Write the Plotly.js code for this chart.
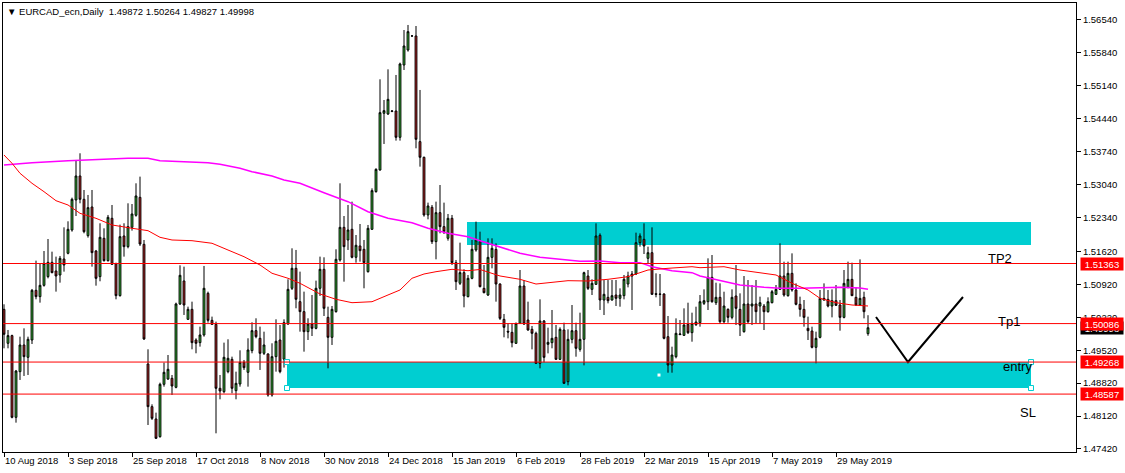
<!DOCTYPE html>
<html><head><meta charset="utf-8">
<script src="https://cdn.plot.ly/plotly-3.0.1.min.js"></script>
<style>html,body{margin:0;padding:0;background:#fff;}#chart{width:1125px;height:473px;}</style>
</head><body><div id="chart"></div>
<script>
// ---- data (EURCAD daily, one bar per weekday from 10 Aug 2018) ----
const openP = [
1.50389,1.49667,1.49830,1.48093,1.49064,1.49631,1.49369,1.49737,1.50793,1.50659,
1.50899,1.51084,1.51388,1.51204,1.51119,1.51459,1.51580,1.52076,1.52714,1.53224,
1.52728,1.51955,1.52565,1.51629,1.51084,1.51899,1.51424,1.52324,1.51360,1.50680,
1.51948,1.51721,1.52132,1.52388,1.52770,1.51771,1.49227,1.48320,1.48058,1.47682,
1.48795,1.48908,1.48922,1.48731,1.50503,1.50992,1.50177,1.50389,1.49737,1.49681,
1.49844,1.50729,1.50155,1.50070,1.48710,1.48639,1.49064,1.49326,1.48660,1.48802,
1.49263,1.49050,1.49511,1.49936,1.49773,1.49454,1.49440,1.48568,1.49383,1.49737,
1.49330,1.50078,1.50836,1.51261,1.50552,1.50340,1.49914,1.50077,1.49985,1.50836,
1.51240,1.50219,1.49794,1.50340,1.51438,1.52132,1.51863,1.52090,1.51495,1.51736,
1.51665,1.51190,1.52090,1.52891,1.53351,1.54556,1.54542,1.54598,1.54605,1.54046,
1.55583,1.55902,1.56200,1.56200,1.53954,1.53621,1.52395,1.52558,1.51828,1.52444,
1.52147,1.51899,1.52324,1.51381,1.50942,1.51169,1.50658,1.51048,1.51651,1.51827,
1.50835,1.50693,1.51494,1.51664,1.50927,1.50176,1.49921,1.49900,1.49666,1.50091,
1.50885,1.50162,1.49964,1.49879,1.49241,1.50141,1.49645,1.49680,1.49794,1.49326,
1.49949,1.48851,1.49751,1.49935,1.49538,1.49751,1.51097,1.50814,1.50920,1.51962,
1.50587,1.50644,1.50587,1.50693,1.50623,1.50679,1.50927,1.51140,1.51140,1.51806,
1.51877,1.51473,1.51593,1.50722,1.50715,1.50715,1.49808,1.49205,1.49382,1.49850,
1.49836,1.50070,1.49893,1.50063,1.50105,1.50516,1.50551,1.51069,1.50530,1.50644,
1.50126,1.50388,1.50218,1.50672,1.50388,1.49914,1.50502,1.50459,1.50502,1.50459,
1.50459,1.50339,1.50530,1.50707,1.50814,1.51097,1.50679,1.51154,1.50800,1.50495,
1.50388,1.49985,1.49928,1.49581,1.49793,1.50622,1.50601,1.50459,1.50573,1.50481,
1.50218,1.50856,1.51026,1.50644,1.50481,1.50644,1.49872];
const highP = [
1.50496,1.49950,1.49850,1.49100,1.49808,1.49985,1.49808,1.50822,1.51424,1.51353,
1.51629,1.51884,1.51615,1.51509,1.51523,1.52132,1.52260,1.52763,1.53564,1.53706,
1.52926,1.52820,1.52926,1.51651,1.52218,1.52111,1.52395,1.52607,1.51381,1.52189,
1.52218,1.52643,1.52628,1.53068,1.53210,1.51863,1.49539,1.48370,1.48193,1.48830,
1.49256,1.49418,1.48993,1.50531,1.51325,1.51296,1.50446,1.50552,1.49773,1.50021,
1.51311,1.50765,1.50234,1.50127,1.48993,1.49681,1.49752,1.49383,1.49064,1.49518,
1.49312,1.49773,1.50113,1.50198,1.50021,1.49914,1.49454,1.49667,1.50177,1.50056,
1.50177,1.51027,1.51686,1.51651,1.51190,1.50765,1.50198,1.50694,1.50999,1.51509,
1.51495,1.50446,1.50460,1.51665,1.53068,1.52373,1.52607,1.52678,1.51969,1.52203,
1.51863,1.52182,1.52961,1.53387,1.55279,1.54839,1.55491,1.54620,1.55371,1.55633,
1.56327,1.56434,1.56215,1.56412,1.55052,1.53635,1.52657,1.52607,1.52678,1.53032,
1.52657,1.52416,1.52395,1.51438,1.51806,1.51240,1.51119,1.51863,1.52253,1.52040,
1.51331,1.51898,1.51898,1.51792,1.50942,1.50290,1.50091,1.50091,1.50105,1.51225,
1.51012,1.50552,1.50035,1.49914,1.50601,1.50162,1.49999,1.50375,1.50056,1.50006,
1.50105,1.49964,1.50481,1.50105,1.50318,1.51189,1.51225,1.51027,1.52217,1.52004,
1.51012,1.51012,1.51012,1.51012,1.50835,1.51119,1.51189,1.51204,1.52019,1.52004,
1.52217,1.51721,1.52132,1.51154,1.51140,1.50729,1.50247,1.49595,1.50197,1.50162,
1.50410,1.50530,1.50318,1.50445,1.50693,1.50814,1.51473,1.51544,1.50955,1.50941,
1.50764,1.50410,1.50814,1.51331,1.50729,1.51097,1.51012,1.50906,1.51012,1.50658,
1.50502,1.50644,1.50800,1.50906,1.51792,1.51402,1.51402,1.51579,1.50941,1.50658,
1.50587,1.50233,1.50020,1.49914,1.50800,1.50941,1.50800,1.50814,1.50906,1.50587,
1.51225,1.51402,1.51381,1.50856,1.51451,1.50764,1.50264];
const lowP = [
1.49560,1.49560,1.48072,1.47980,1.48887,1.48972,1.48993,1.49652,1.50602,1.50531,
1.50871,1.51048,1.51155,1.50765,1.50956,1.51190,1.51558,1.52040,1.52373,1.52643,
1.52005,1.51913,1.51296,1.50892,1.50985,1.51403,1.51403,1.51332,1.50602,1.50659,
1.51509,1.51686,1.52062,1.52359,1.51736,1.49737,1.47930,1.48037,1.47633,1.47661,
1.48745,1.48887,1.48568,1.48710,1.50481,1.50269,1.50163,1.49539,1.49454,1.49596,
1.49808,1.50106,1.50056,1.47753,1.48476,1.48603,1.49029,1.48603,1.48476,1.48745,
1.49100,1.48745,1.49454,1.49773,1.49100,1.49418,1.48533,1.48533,1.49064,1.49029,
1.49150,1.50056,1.50800,1.50411,1.49914,1.49489,1.49737,1.49822,1.49964,1.50673,
1.50247,1.49135,1.49631,1.50318,1.51403,1.50977,1.51651,1.51473,1.51381,1.51403,
1.50836,1.51169,1.52076,1.52869,1.53337,1.53904,1.54520,1.54580,1.53975,1.53975,
1.55477,1.55867,1.56190,1.53812,1.53422,1.52359,1.52302,1.51778,1.51452,1.52005,
1.51991,1.51849,1.51332,1.50800,1.50906,1.50432,1.50644,1.51027,1.51615,1.50856,
1.50729,1.50672,1.51260,1.50552,1.50162,1.49794,1.49772,1.49581,1.49652,1.50077,
1.50056,1.49935,1.49538,1.49227,1.49135,1.49262,1.49453,1.49560,1.49312,1.49312,
1.48801,1.48773,1.49666,1.49382,1.49489,1.49198,1.50800,1.50693,1.50906,1.50375,
1.50268,1.50516,1.50573,1.50460,1.50445,1.50601,1.50856,1.50375,1.51119,1.51721,
1.51565,1.51367,1.50693,1.50644,1.50460,1.49751,1.49042,1.49042,1.49347,1.49843,
1.49822,1.49864,1.49701,1.50034,1.50020,1.50481,1.50374,1.50530,1.50481,1.50077,
1.50091,1.50105,1.50176,1.50055,1.49822,1.49893,1.50091,1.50055,1.50091,1.50077,
1.49949,1.50318,1.50516,1.50693,1.50800,1.50658,1.50658,1.50764,1.50474,1.50233,
1.50020,1.49737,1.49559,1.49241,1.49772,1.50573,1.50431,1.50218,1.50459,1.49935,
1.50197,1.50835,1.50672,1.50459,1.50459,1.50197,1.49827];
const closeP = [
1.49858,1.49830,1.48093,1.49078,1.49631,1.49383,1.49752,1.50793,1.50659,1.50899,
1.51367,1.51388,1.51169,1.51098,1.51473,1.51332,1.52090,1.52728,1.53224,1.52728,
1.52040,1.52551,1.51594,1.51048,1.51920,1.51424,1.52345,1.51346,1.50680,1.51934,
1.51721,1.52147,1.52416,1.52799,1.51778,1.49759,1.48320,1.48072,1.47647,1.48795,
1.49050,1.49114,1.48759,1.50503,1.51112,1.50481,1.50389,1.49681,1.49667,1.49844,
1.50836,1.50155,1.50070,1.48710,1.48653,1.49369,1.49348,1.48710,1.48816,1.49263,
1.49149,1.49525,1.49936,1.49808,1.49454,1.49631,1.48568,1.49383,1.49709,1.49064,
1.50106,1.50814,1.51261,1.50602,1.50340,1.49914,1.50077,1.49985,1.50836,1.51240,
1.50410,1.49794,1.50389,1.51452,1.52132,1.51721,1.52076,1.51495,1.51750,1.51636,
1.51381,1.52111,1.52912,1.53365,1.54570,1.54613,1.54853,1.54605,1.54046,1.55605,
1.55987,1.56292,1.56200,1.54003,1.53621,1.52395,1.52586,1.51828,1.52444,1.52147,
1.52040,1.52324,1.51381,1.50977,1.51169,1.50673,1.51048,1.51665,1.51863,1.50871,
1.50743,1.51494,1.51686,1.50927,1.50197,1.50006,1.49907,1.49680,1.50091,1.50885,
1.50077,1.49949,1.49879,1.49241,1.50141,1.49368,1.49687,1.49772,1.49326,1.49964,
1.48816,1.49751,1.49935,1.49560,1.49751,1.51168,1.50835,1.50942,1.51948,1.50587,
1.50708,1.50573,1.50679,1.50623,1.50693,1.51027,1.51097,1.51097,1.51806,1.51948,
1.51735,1.51593,1.50708,1.50708,1.50708,1.49772,1.49205,1.49418,1.49879,1.49864,
1.50056,1.49893,1.50091,1.50119,1.50551,1.50573,1.51069,1.50551,1.50644,1.50126,
1.50459,1.50218,1.50644,1.50410,1.50055,1.50502,1.50126,1.50502,1.50339,1.50530,
1.50339,1.50551,1.50764,1.50814,1.51097,1.50693,1.51154,1.50800,1.50495,1.50388,
1.50218,1.49935,1.49581,1.49772,1.50622,1.50587,1.50459,1.50573,1.50474,1.50218,
1.50941,1.51026,1.50679,1.50481,1.50622,1.50339,1.49998];

// slow moving average (magenta), read at some bar numbers
const maSlowBar = [0,7,16,23,31,36,39,45,51,54,59,62,67,70,74,80,86,91,96,102,106,111,116,119,124,129,134,139,144,149,154,159,162,167,172,174,179,184,190,194,199,204,209,214,216];
const maSlowVal = [1.53457,1.53506,1.53549,1.53578,1.53600,1.53600,1.53549,1.53527,1.53506,1.53472,1.53387,1.53315,1.53223,1.53138,1.53068,1.52868,1.52677,1.52464,1.52324,1.52231,1.52112,1.52005,1.51933,1.51848,1.51720,1.51580,1.51495,1.51453,1.51410,1.51417,1.51381,1.51381,1.51295,1.51210,1.51168,1.51098,1.50998,1.50906,1.50857,1.50836,1.50836,1.50849,1.50857,1.50843,1.50815];
// faster moving average (red)
const maFastBar = [0,2,4,7,10,13,16,19,23,27,32,36,39,42,47,52,56,60,64,67,71,74,79,83,87,92,96,99,102,105,108,112,116,119,124,129,133,136,141,146,151,156,161,166,172,174,180,184,189,193,197,201,204,208,212,216];
const maFastVal = [1.53670,1.53493,1.53281,1.53068,1.52890,1.52698,1.52607,1.52430,1.52324,1.52182,1.52112,1.52061,1.51920,1.51863,1.51848,1.51793,1.51650,1.51508,1.51331,1.51155,1.51049,1.50942,1.50715,1.50602,1.50530,1.50551,1.50694,1.50800,1.51049,1.51140,1.51189,1.51240,1.51210,1.51236,1.51098,1.51027,1.50927,1.50955,1.50998,1.50991,1.51027,1.51083,1.51225,1.51261,1.51295,1.51274,1.51295,1.51225,1.51168,1.51119,1.50942,1.50800,1.50623,1.50530,1.50481,1.50460];

const dateTickLabels = ['10 Aug 2018','3 Sep 2018','25 Sep 2018','17 Oct 2018','8 Nov 2018','30 Nov 2018','24 Dec 2018','15 Jan 2019','6 Feb 2019','28 Feb 2019','22 Mar 2019','15 Apr 2019','7 May 2019','29 May 2019'];
const priceTicks = [1.56540,1.55840,1.55140,1.54440,1.53740,1.53040,1.52340,1.51620,1.50920,1.50220,1.49520,1.48820,1.48120,1.47420];

const levelNames = ['TP2','Tp1','entry','SL'];
const levelPrices = [1.51363,1.50086,1.49268,1.48587];
const lastPrice = 1.49998;
const headerText = '▼ EURCAD_ecn,Daily  1.49872 1.50264 1.49827 1.49998';

// drawn objects (bar number / price anchors)
const zoneBarStart = [115.75, 70.75];
const zoneBarEnd = [256.75, 256.75];
const zoneTop = [1.52246, 1.49268];
const zoneBottom = [1.51757, 1.48716];
const pathBar = [218, 226, 239.75];
const pathPrice = [1.50226, 1.49269, 1.50651];

// ---- chart ----
const FONT = 'Liberation Sans, Arial, sans-serif';
const bars = openP.map((_, i) => i);
const BARS_PER_LABEL = 16;

const traces = [
  {type:'scatter', mode:'lines', x: maSlowBar, y: maSlowVal, line:{color:'#ff00ff', width:1.5}, hoverinfo:'skip', showlegend:false},
  {type:'scatter', mode:'lines', x: maFastBar, y: maFastVal, line:{color:'#ff0000', width:1}, hoverinfo:'skip', showlegend:false},
  {type:'candlestick', x: bars, open: openP, high: highP, low: lowP, close: closeP,
   increasing:{line:{color:'#000000', width:1}, fillcolor:'#32cd32'},
   decreasing:{line:{color:'#000000', width:1}, fillcolor:'#d21e1e'},
   whiskerwidth:0, hoverinfo:'skip', showlegend:false},
  {type:'scatter', mode:'lines', x: pathBar, y: pathPrice, line:{color:'#000000', width:2}, hoverinfo:'skip', showlegend:false},
  {type:'scatter', mode:'markers',
   x:[zoneBarStart[1], zoneBarStart[1], zoneBarEnd[1], zoneBarEnd[1]],
   y:[zoneTop[1], zoneBottom[1], zoneTop[1], zoneBottom[1]],
   marker:{symbol:'square', size:5, color:'#ffffff', line:{color:'#00ced1', width:1}}, hoverinfo:'skip', showlegend:false},
  {type:'scatter', mode:'markers',
   x:[(zoneBarStart[1]+zoneBarEnd[1])/2], y:[(zoneTop[1]+zoneBottom[1])/2],
   marker:{symbol:'square', size:3, color:'#ffffff'}, hoverinfo:'skip', showlegend:false}
];

const shapes = [];
zoneTop.forEach((t, k) => shapes.push({type:'rect', layer:'below', xref:'x', yref:'y',
  x0: zoneBarStart[k], x1: zoneBarEnd[k], y0: t, y1: zoneBottom[k], fillcolor:'#00ced1', line:{width:0}}));
levelPrices.forEach(p => shapes.push({type:'line', layer:'above', xref:'paper', yref:'y', x0:0, x1:1, y0:p, y1:p, line:{color:'#ff0000', width:1}}));

const annotations = [];
annotations.push({xref:'paper', yref:'paper', x:0, y:1, xanchor:'left', yanchor:'top', xshift:2, yshift:-1,
  text: headerText.replace(/  /g,'&nbsp; '), showarrow:false, font:{family:FONT, size:9.5, color:'#000'}});
const labelPos = [{bar:245.75, price:1.51459},{bar:248.25, price:1.50126},{bar:249.5, price:1.49184},{bar:253.75, price:1.48200}];
levelNames.forEach((n, k) => annotations.push({xref:'x', yref:'y', x: labelPos[k].bar, y: labelPos[k].price,
  xanchor:'left', yanchor:'middle', text:n, showarrow:false, borderpad:0, font:{family:FONT, size:13, color:'#000'}}));
annotations.push({xref:'paper', yref:'y', x:1, y:lastPrice, xanchor:'left', yanchor:'middle', xshift:4,
  text:lastPrice.toFixed(5), showarrow:false, bgcolor:'#000000', width:40, height:10, borderpad:1,
  font:{family:FONT, size:9.5, color:'#ffffff'}});
levelPrices.forEach(p => annotations.push({xref:'paper', yref:'y', x:1, y:p, xanchor:'left', yanchor:'middle', xshift:4,
  text:p.toFixed(5), showarrow:false, bgcolor:'#ff0000', width:40, height:10, borderpad:1,
  font:{family:FONT, size:9.5, color:'#ffffff'}}));

const layout = {
  width:1125, height:473,
  margin:{l:3, r:49, t:3, b:21, pad:0},
  paper_bgcolor:'#ffffff', plot_bgcolor:'#ffffff',
  showlegend:false, boxgap:0.35,
  xaxis:{type:'linear', range:[-0.25, 268], rangeslider:{visible:false},
    tickvals: dateTickLabels.map((_, k) => k*BARS_PER_LABEL), ticktext: dateTickLabels,
    ticks:'outside', ticklen:4, tickcolor:'#000', tickwidth:1, ticklabelposition:'outside right',
    showline:true, mirror:true, linecolor:'#000', linewidth:1, showgrid:false, zeroline:false,
    tickfont:{family:FONT, size:9.5, color:'#000'}, fixedrange:true},
  yaxis:{side:'right', range:[1.47356, 1.56901],
    tickvals: priceTicks, ticktext: priceTicks.map(v => v.toFixed(5)),
    ticks:'outside', ticklen:4, tickcolor:'#000', tickwidth:1,
    showline:true, mirror:true, linecolor:'#000', linewidth:1, showgrid:false, zeroline:false,
    tickfont:{family:FONT, size:9.5, color:'#000'}, fixedrange:true},
  shapes, annotations
};

Plotly.newPlot('chart', traces, layout, {staticPlot:true, displayModeBar:false});
</script></body></html>
